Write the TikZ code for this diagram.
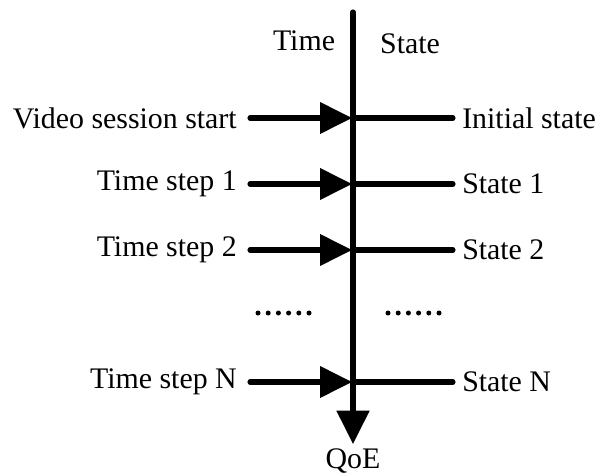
\documentclass[tikz,border=0pt]{standalone}
\usepackage{fontspec}
\setmainfont{Liberation Serif}
\usetikzlibrary{arrows.meta}
\begin{document}
\begin{tikzpicture}[x=0.75pt,y=-0.75pt,
  lbl/.style={font=\fontsize{22.4pt}{26pt}\selectfont, inner sep=0pt},
  thickline/.style={line width=3.8pt, line cap=round},
  arr/.style={thickline, -{Triangle[length=24pt,width=23pt]}},
  dotmark/.style={fill=black}]
\useasboundingbox (0,0) rectangle (595,474);

% main time axis
\coordinate (top) at (353,12);
\coordinate (bottom) at (353,444);
\draw[thickline, -{Triangle[length=25pt,width=24pt]}] (top) -- (bottom);
\node[lbl] (qoe) at (353,461) {QoE};

% column headings
\node[lbl] (time) at (304,41) {Time};
\node[lbl] (state) at (410,44) {State};

% rows: time events on the left, states on the right
\foreach \y/\lt/\rt/\n in {118/Video session start/Initial state/0,
                           184/Time step 1/State 1/1,
                           250/Time step 2/State 2/2,
                           382/Time step N/State N/3}{
  \node[lbl, anchor=east] (l\n) at (237,\y) {\lt};
  \node[lbl, anchor=west] (r\n) at (462,\y) {\rt};
  \coordinate (a\n) at (352,\y);
  \coordinate (s\n) at (250,\y);
  \coordinate (e\n) at (453,\y);
  \draw[arr] (s\n) -- (a\n);
  \draw[thickline] (a\n) -- (e\n);
}

% ellipsis between step 2 and step N
\foreach \k in {0,...,5}{
  \fill[dotmark] (258+10.2*\k,313) circle (2.5);
  \fill[dotmark] (388+10.2*\k,313) circle (2.5);
}
\end{tikzpicture}
\end{document}
